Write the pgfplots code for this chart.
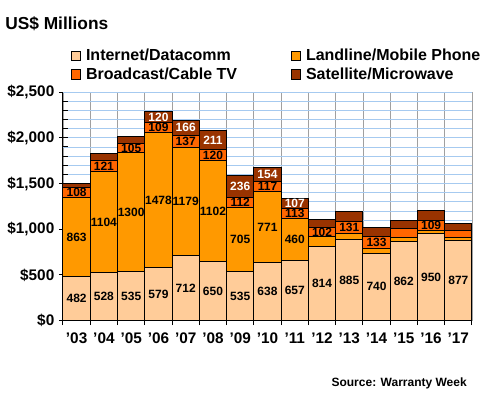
\documentclass[border=0pt]{standalone}
\usepackage{pgfplots}
\pgfplotsset{compat=1.18}
\usepackage{pgfplotstable}
\usepackage{fontspec}
\setmainfont{Liberation Sans}
\definecolor{cInet}{HTML}{FFCC99}
\definecolor{cLand}{HTML}{FF9900}
\definecolor{cBc}{HTML}{FF6600}
\definecolor{cSat}{HTML}{993300}
\definecolor{gridblue}{HTML}{A6CAF0}
\definecolor{gridgray}{HTML}{A0A0A0}
\pgfplotstableread{
x inet land bc sat
0 482 863 108 50
1 528 1104 121 72
2 535 1300 105 80
3 579 1478 109 120
4 712 1179 137 166
5 650 1102 120 211
6 535 705 112 236
7 638 771 117 154
8 657 460 113 107
9 814 105 102 88
10 885 71 131 105
11 740 52 133 90
12 862 50 97 85
13 950 40 109 110
14 877 31 77 81
}\data
\pgfplotsset{
  common/.style={
    scale only axis, width=306.75pt, height=171.4pt,
    at={(47.25pt,59.5pt)}, anchor=south west,
    xmin=-0.5, xmax=14.5, ymin=0, ymax=2500, clip=false},
  sq legend/.style={legend image code/.code={%
    \draw[##1, draw=black, line width=0.5pt] (0pt,-3.4pt) rectangle (6.8pt,3.4pt);
    \path (9pt,0pt);}},
  lbl/.style={draw=none, mark=none, nodes near coords, point meta=explicit symbolic,
    every node near coord/.append style={anchor=center, inner sep=0pt,
      font=\bfseries\fontsize{9}{10}\selectfont}},
}
\begin{document}
\begin{tikzpicture}[font=\bfseries]
\useasboundingbox (0,0) rectangle (360pt,300pt);
\begin{axis}[common,
  ybar stacked, bar width=1,
  axis lines=left, axis line style={-, black, line width=0.75pt},
  xtick={0,...,14},
  xticklabels={'03,'04,'05,'06,'07,'08,'09,'10,'11,'12,'13,'14,'15,'16,'17},
  minor xtick={-0.5,0.5,...,14.5},
  ytick={0,500,...,2500},
  yticklabels={\$0,\$500,{\$1,000},{\$1,500},{\$2,000},{\$2,500}},
  minor ytick={100,200,...,2400},
  tick align=outside,
  major tick length=3pt, minor tick length=3.4pt,
  major x tick style={draw=none},
  minor x tick style={black, line width=0.75pt},
  major y tick style={black, line width=0.75pt},
  minor y tick style={black, line width=0.75pt, xshift=3.4pt},
  xminorgrids=true, xmajorgrids=false, ymajorgrids=true, yminorgrids=true,
  x grid style={gridgray, line width=0.6pt},
  y grid style={gridblue, line width=0.6pt},
  tick label style={font=\bfseries\fontsize{11.5}{13}\selectfont},
  xticklabel style={yshift=-2.5pt},
  legend columns=2,
  legend cell align=left,
  legend style={at={(0.008,1.215)}, anchor=north west, draw=none, fill=none,
    font=\bfseries\fontsize{12}{14}\selectfont,
    /tikz/every even column/.append style={column sep=38pt}},
]
\addplot[fill=cInet, draw=black, line width=0.75pt, sq legend] table[x=x, y=inet]{\data};
\addlegendentry{Internet/Datacomm}
\addplot[fill=cLand, draw=black, line width=0.75pt, sq legend] table[x=x, y=land]{\data};
\addlegendentry{Landline/Mobile Phone}
\addplot[fill=cBc, draw=black, line width=0.75pt, sq legend] table[x=x, y=bc]{\data};
\addlegendentry{Broadcast/Cable TV}
\addplot[fill=cSat, draw=black, line width=0.75pt, sq legend] table[x=x, y=sat]{\data};
\addlegendentry{Satellite/Microwave}
\end{axis}
\begin{axis}[common, hide axis]
\addplot[lbl] table[x=x, y expr=\thisrow{inet}/2, meta=inet]{\data};
\addplot[lbl, restrict x to domain=0:8] table[x=x, y expr=\thisrow{inet}+\thisrow{land}/2, meta=land]{\data};
\addplot[lbl, skip coords between index={12}{13}, skip coords between index={14}{15}] table[x=x, y expr=\thisrow{inet}+\thisrow{land}+\thisrow{bc}/2, meta=bc]{\data};
\addplot[lbl, restrict x to domain=3:8, every node near coord/.append style={text=white}] table[x=x, y expr=\thisrow{inet}+\thisrow{land}+\thisrow{bc}+\thisrow{sat}/2, meta=sat]{\data};
\end{axis}
\node[anchor=base west, font=\bfseries\fontsize{13}{15}\selectfont, inner sep=0pt] at (3.75pt,277.5pt) {US\$ Millions};
\node[anchor=base east, font=\bfseries\fontsize{9}{11}\selectfont, inner sep=0pt] at (350.25pt,9.75pt) {Source: Warranty Week};
\end{tikzpicture}
\end{document}
